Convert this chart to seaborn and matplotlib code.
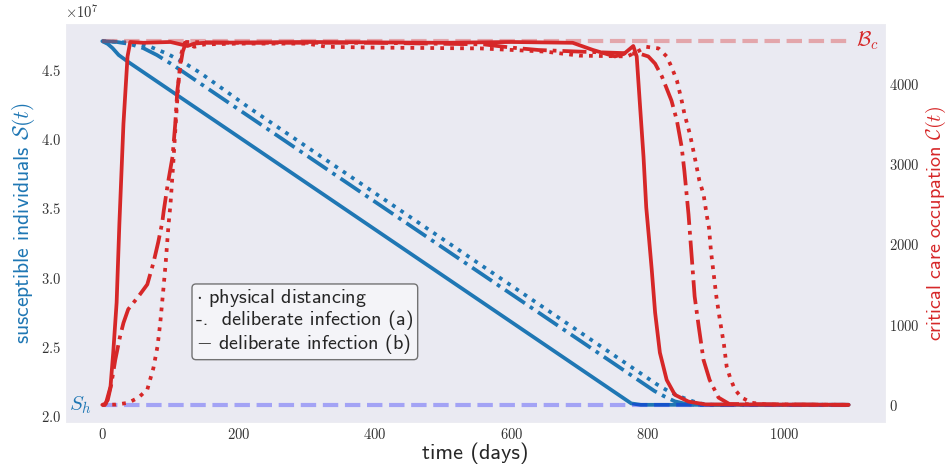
import matplotlib
matplotlib.use("Agg")
import numpy as np
import matplotlib.pyplot as plt
import seaborn as sns

# ---------------- data ----------------
S_scale = 1e7
S0 = 4.71          # x1e7, initial susceptible
S_h = 2.08         # x1e7, herd immunity threshold
B_c = 4530         # critical care beds
T_end = 1095

# susceptible S(t)  (x 1e7)
t_S_pd = [0, 40, 70, 95, 118, 144, 215, 813, 830, 845, 860, 876, 895, 1095]
S_pd = [4.71, 4.70, 4.67, 4.62, 4.56, 4.48, 4.23, 2.23, 2.18, 2.145, 2.116, 2.09, 2.08, 2.08]

t_S_a = [0, 20, 40, 60, 80, 103, 810, 825, 840, 855, 870, 1095]
S_a = [4.71, 4.705, 4.69, 4.66, 4.61, 4.54, 2.18, 2.14, 2.105, 2.088, 2.08, 2.08]

t_S_b = [0, 8, 15, 24, 38, 776, 790, 1095]
S_b = [4.71, 4.69, 4.66, 4.61, 4.56, 2.09, 2.08, 2.08]

# critical care occupation C(t)
t_C_pd = [0, 20, 38, 53, 66, 75, 81, 85, 90, 93, 97, 100, 104, 108, 112, 116, 121, 135,
          150, 200, 300, 330, 400, 555, 650, 700, 770, 785, 798, 816, 828, 835, 843, 850,
          854, 862, 869, 876, 882, 887, 890, 893, 897, 901, 906, 912, 916, 921, 928, 938,
          953, 975, 1095]
C_pd = [0, 3, 25, 90, 190, 460, 730, 1020, 1480, 1770, 2230, 2500, 3000, 3550, 4050, 4380,
        4510, 4460, 4490, 4500, 4500, 4460, 4450, 4440, 4400, 4350, 4340, 4400, 4460, 4440,
        4340, 4210, 4040, 3790, 3625, 3375, 3090, 2790, 2625, 2350, 2210, 1910, 1625, 1340,
        1060, 750, 475, 340, 190, 90, 25, 3, 0]

t_C_a = [0, 3, 8, 13, 19, 26, 31, 38, 53, 66, 75, 82, 88, 90, 96, 103, 107, 110, 115, 118,
         123, 200, 400, 560, 600, 640, 700, 770, 790, 801, 811, 821, 835, 843, 850, 854,
         860, 865, 869, 875, 882, 891, 904, 920, 1095]
C_a = [0, 0, 60, 250, 560, 850, 1020, 1190, 1350, 1500, 1770, 2025, 2275, 2410, 2750, 3090,
       3500, 3910, 4250, 4400, 4520, 4510, 4510, 4490, 4450, 4420, 4400, 4380, 4370, 4340,
       4250, 4090, 3790, 3540, 3210, 2910, 2375, 1810, 1350, 975, 560, 310, 90, 10, 0]

t_C_b = [0, 5, 12, 16, 21, 25, 31, 37, 41, 60, 100, 125, 135, 150, 300, 500, 600, 690,
         720, 752, 765, 779, 784, 789, 794, 798, 802, 806, 811, 818, 828, 840, 860, 885, 1095]
C_b = [0, 10, 225, 650, 1275, 2250, 3500, 4340, 4520, 4510, 4520, 4470, 4500, 4510, 4520,
       4510, 4520, 4510, 4420, 4340, 4370, 4470, 4340, 3710, 3090, 2460, 2080, 1690, 1150,
       650, 310, 125, 40, 5, 0]

legend_lines = ["$\\cdot$ physical distancing",
                "-.  deliberate infection (a)",
                "$-$ deliberate infection (b)"]

# ---------------- style ----------------
sns.set_style("dark")
plt.rcParams["mathtext.fontset"] = "cm"
plt.rcParams["axes.formatter.use_mathtext"] = True
plt.rcParams["font.family"] = ["cmss10", "DejaVu Sans"]

BLUE = "#1f77b4"
RED = "#d62728"
LW = 2.7

fig, ax = plt.subplots(figsize=(9.48, 4.69), dpi=100)
fig.subplots_adjust(left=65/948, right=886/948, bottom=1-423/469, top=1-23/469)
ax2 = ax.twinx()

# susceptible curves (left axis)
sns.lineplot(x=t_S_pd, y=np.array(S_pd) * S_scale, ax=ax, color=BLUE, lw=LW, linestyle=":")
sns.lineplot(x=t_S_a, y=np.array(S_a) * S_scale, ax=ax, color=BLUE, lw=LW, linestyle="-.")
sns.lineplot(x=t_S_b, y=np.array(S_b) * S_scale, ax=ax, color=BLUE, lw=LW, linestyle="-")
sns.lineplot(x=[0, T_end], y=[S_h * S_scale, S_h * S_scale], ax=ax, color="blue",
             alpha=0.3, lw=3, linestyle="--")

# critical care curves (right axis)
sns.lineplot(x=t_C_pd, y=C_pd, ax=ax2, color=RED, lw=LW, linestyle=":")
sns.lineplot(x=t_C_a, y=C_a, ax=ax2, color=RED, lw=LW, linestyle="-.")
sns.lineplot(x=t_C_b, y=C_b, ax=ax2, color=RED, lw=LW, linestyle="-")
sns.lineplot(x=[0, T_end], y=[B_c, B_c], ax=ax2, color=RED, alpha=0.35, lw=3, linestyle="--")

# threshold labels
ax.text(-32, S_h * S_scale, "$S_h$", color=BLUE, fontsize=15, ha="center", va="center")
ax2.text(1122, B_c, "$\\mathcal{B}_c$", color=RED, fontsize=15, ha="center", va="center")

# labels
ax.set_xlabel("time (days)", fontsize=16, labelpad=0)
ax.set_ylabel("susceptible individuals $\\mathcal{S}(t)$", color=BLUE, fontsize=15.5, labelpad=3)
ax2.set_ylabel("critical care occupation $\\mathcal{C}(t)$", color=RED, fontsize=14.5, labelpad=3)

ax.tick_params(labelfontfamily="cmr10", labelsize=10.5, colors="#333333", pad=3, length=0)
ax2.tick_params(labelfontfamily="cmr10", labelsize=10.5, colors="#333333", pad=2, length=0)
ax.yaxis.get_offset_text().set_fontfamily("cmr10")
ax.yaxis.get_offset_text().set_fontsize(10.5)
ax.yaxis.get_offset_text().set_color("#333333")

# text box legend
ax2.text(0.1596, 0.34, "\n".join(legend_lines), transform=ax.transAxes, fontsize=14.5,
         ha="left", va="top", linespacing=1.1, zorder=10,
         bbox=dict(boxstyle="round,pad=0.2", fc=(1, 1, 1, 0.5), ec="0.45", lw=1))

fig.savefig("out.png", dpi=100)
